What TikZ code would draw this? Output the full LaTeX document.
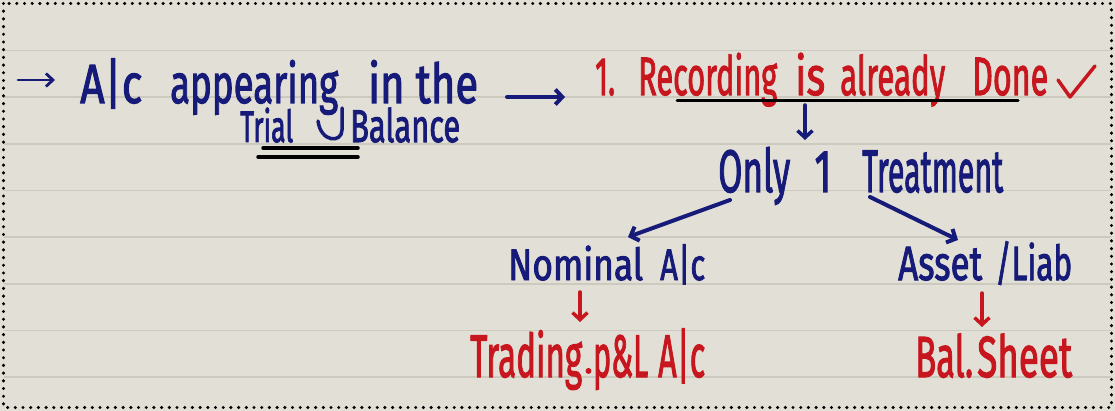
\documentclass[tikz,border=0pt]{standalone}
\usepackage{fontspec}
\setmainfont{Fira Sans}[BoldFont={Fira Sans}, BoldFeatures={FakeBold=2.2}]
\usepackage{graphicx}
\usetikzlibrary{arrows.meta}
\definecolor{paper}{RGB}{226,224,214}
\definecolor{ruleline}{RGB}{204,201,191}
\definecolor{ink}{RGB}{22,26,120}
\definecolor{redink}{RGB}{200,22,30}
\newsavebox\hwbox
\newcommand\fitw[2]{\sbox\hwbox{#2}\pgfmathsetmacro\hwfac{#1/\the\wd\hwbox}\scalebox{\hwfac}[1]{\usebox\hwbox}}
\tikzset{
  hw/.style={inner sep=0pt, anchor=base west},
  blue/.style={text=ink},
  red/.style={text=redink},
  barrow/.style={draw=ink, line width=4pt, line cap=round, line join=round, -{Straight Barb[length=7pt,width=15pt]}},
  rarrow/.style={draw=redink, line width=3.5pt, line cap=round, line join=round, -{Straight Barb[length=7pt,width=15pt]}},
  uline/.style={draw=black, line width=3pt, line cap=round},
}
\begin{document}
\begin{tikzpicture}[x=1pt,y=-1pt]
\useasboundingbox (0,0) rectangle (1115,411);
\fill[paper] (0,0) rectangle (1115,411);
\foreach \yy in {50.5,97.2,143.8,190.5,237.2,283.8,330.5,377.2}
  \draw[ruleline, line width=1.8pt] (4,\yy) -- (1111,\yy);
\draw[black, line width=3.4pt, line cap=round, dash pattern=on 0pt off 7.7pt] (3.5,3.5) rectangle (1111.5,407.5);

% left block
\coordinate (s0) at (18,80);
\coordinate (s1) at (55,80);
\draw[draw=ink, line width=2.8pt, line cap=round, line join=round, -{Straight Barb[length=7pt,width=13pt]}] (s0) -- (s1);
\begin{scope}[every node/.style={hw, blue, font=\fontsize{55}{60}\selectfont\bfseries}]
\node (ac) at (80,103) {\fitw{62}{A|c}};
\node (appearing) at (170,103) {\fitw{168}{appearing}};
\node (inthe) at (368,103) {\fitw{110}{in the}};
\end{scope}
\node[hw, blue, font=\fontsize{44}{48}\selectfont\bfseries] (trial) at (240,142) {\fitw{53}{Trial}};
\node[hw, blue, font=\fontsize{46}{50}\selectfont\bfseries] (balance) at (350,142) {\fitw{110}{Balance}};
\draw[draw=ink, line width=3.5pt, line cap=round] (342,108) -- (342,130) .. controls (342,143) and (321,143) .. (318,121);
\draw[uline, line width=3.5pt] (263,148) -- (358,148);
\draw[uline, line width=3.5pt] (258,157) -- (358,157);

% main arrow
\coordinate (m0) at (507,97);
\coordinate (m1) at (565,97);
\draw[barrow] (m0) -- (m1);

% red heading
\begin{scope}[every node/.style={hw, red, font=\fontsize{54}{60}\selectfont\bfseries}]
\node (one) at (595,95) {\fitw{20}{1.}};
\node (recording) at (638,95) {\fitw{139}{Recording}};
\node (is) at (795,95) {\fitw{30}{is}};
\node (already) at (840,95) {\fitw{105}{already}};
\node (done) at (972,95) {\fitw{76}{Done}};
\end{scope}
\draw[draw=redink, line width=3.5pt, line cap=round, line join=round] (1058,80) -- (1070,97) -- (1095,66);
\draw[uline] (677,101) -- (1018,101);

\coordinate (d0) at (805,105);
\coordinate (d1) at (805,140);
\draw[barrow, line width=3.5pt] (d0) -- (d1);

% only 1 treatment
\begin{scope}[every node/.style={hw, blue, font=\fontsize{60}{66}\selectfont\bfseries}]
\node (only) at (718,192) {\fitw{72}{Only}};
\node[anchor=base] (n1) at (823,192) {\scalebox{0.65}[1]{1}};
\node (treat) at (862,192) {\fitw{141}{Treatment}};
\end{scope}
\coordinate (l0) at (730,200);
\coordinate (l1) at (628,237);
\coordinate (r0) at (870,197);
\coordinate (r1) at (958,240);
\draw[barrow] (l0) -- (l1);
\draw[barrow] (r0) -- (r1);

% second level
\node[hw, blue, font=\fontsize{44}{48}\selectfont\bfseries] (nominal) at (508,280) {\fitw{135}{Nominal}};
\node[hw, blue, font=\fontsize{44}{48}\selectfont\bfseries] (nac) at (660,280) {\fitw{45}{A|c}};
\node[hw, blue, font=\fontsize{48}{52}\selectfont\bfseries] (asset) at (898,280) {\fitw{84}{Asset}};
\node[hw, blue, font=\fontsize{48}{52}\selectfont\bfseries] (liab) at (995,280) {\fitw{77}{/Liab}};

\coordinate (p0) at (580,292);
\coordinate (p1) at (580,322);
\coordinate (q0) at (982,293);
\coordinate (q1) at (982,327);
\draw[rarrow] (p0) -- (p1);
\draw[rarrow] (q0) -- (q1);

% third level
\begin{scope}[every node/.style={hw, red, font=\fontsize{60}{66}\selectfont\bfseries}]
\node (trading) at (470,377) {\fitw{112}{Trading}};
\node[font=\fontsize{36}{40}\selectfont\bfseries] (dot) at (584,373) {.};
\node (pl) at (593,377) {\fitw{55}{p\&L}};
\node (tac) at (658,377) {\fitw{47}{A|c}};
\end{scope}
\begin{scope}[every node/.style={hw, red, font=\fontsize{58}{64}\selectfont\bfseries}]
\node (bal) at (915,377) {\fitw{58}{Bal.}};
\node (sheet) at (977,377) {\fitw{95}{Sheet}};
\end{scope}
\end{tikzpicture}
\end{document}
